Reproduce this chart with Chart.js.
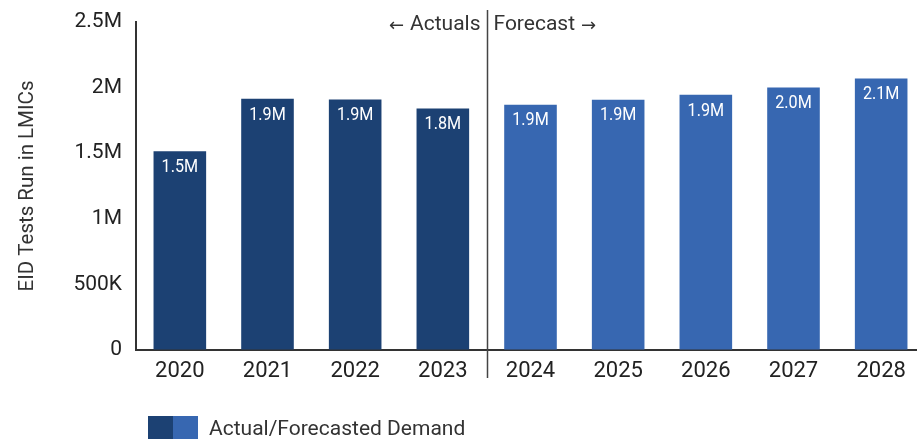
<!DOCTYPE html>
<html><head><meta charset="utf-8">
<script src="https://cdn.jsdelivr.net/npm/chart.js@4/dist/chart.umd.min.js"></script>
<style>html,body{margin:0;padding:0;overflow:hidden;background:#fff;width:917px;height:439px}canvas{display:block}</style>
</head><body>
<canvas id="c" width="930" height="439"></canvas>
<script>
const years = ["2020","2021","2022","2023","2024","2025","2026","2027","2028"];
const demand = [1515000,1915000,1910000,1840000,1870000,1908000,1945000,2000000,2070000];
const isForecast = [false,false,false,false,true,true,true,true,true];
const yTickLabels = {0:"0",500000:"500K",1000000:"1M",1500000:"1.5M",2000000:"2M",2500000:"2.5M"};
const dividerAfterIndex = 3;
const legendText = "Actual/Forecasted Demand";
const dark = "#1c4173", light = "#3767b1";

const overlay = {
  id:"overlay",
  afterDatasetsDraw(chart){
    const ctx = chart.ctx, x = chart.scales.x, meta = chart.getDatasetMeta(0);
    ctx.save();
    ctx.fillStyle = "#fff";
    ctx.font = "19px Roboto";
    ctx.textAlign = "center"; ctx.textBaseline = "middle";
    meta.data.forEach((b,i)=>{
      ctx.save();
      ctx.translate(b.x, b.y+16);
      ctx.scale(0.85,1);
      ctx.fillText((demand[i]/1e6).toFixed(1)+"M", 0, 0);
      ctx.restore();
    });
    const dx = Math.round((x.getPixelForValue(dividerAfterIndex)+x.getPixelForValue(dividerAfterIndex+1))/2)+0.5;
    ctx.strokeStyle = "#444"; ctx.lineWidth = 1.5;
    ctx.beginPath(); ctx.moveTo(dx,10); ctx.lineTo(dx,378); ctx.stroke();
    ctx.fillStyle = "#333"; ctx.textBaseline = "middle";
    ctx.font = "21px Roboto";
    ctx.textAlign = "right";
    const aW = ctx.measureText("Actuals").width;
    ctx.fillText("Actuals", dx-7, 25);
    ctx.textAlign = "left";
    const fW = ctx.measureText("Forecast").width;
    ctx.fillText("Forecast", dx+6, 25);
    ctx.font = "18px 'DejaVu Sans'";
    ctx.textAlign = "right"; ctx.fillText("\u2190", dx-7-aW-6, 26);
    ctx.textAlign = "left"; ctx.fillText("\u2192", dx+6+fW+6, 26);
    ctx.fillStyle = dark; ctx.fillRect(148,416,25,23);
    ctx.fillStyle = light; ctx.fillRect(173,416,25,23);
    ctx.fillStyle = "#333"; ctx.font = "21px Roboto"; ctx.textAlign="left";
    ctx.fillText(legendText, 209, 430);
    ctx.restore();
  }
};

new Chart(document.getElementById("c"), {
  type:"bar",
  data:{labels:years, datasets:[{label:legendText, data:demand,
    backgroundColor: isForecast.map(f=>f?light:dark),
    categoryPercentage:1, barPercentage:0.6}]},
  options:{
    responsive:false, animation:false,
    layout:{padding:{top:22,right:5,bottom:57,left:0}},
    plugins:{legend:{display:false}, tooltip:{enabled:false}},
    scales:{
      x:{grid:{display:false,drawTicks:false},
         border:{display:true,color:"#333",width:2},
         ticks:{color:"#222",font:{family:"Roboto",size:22},padding:8,maxRotation:0},
         afterFit(s){s.height=32;}},
      y:{min:0,max:2500000,
         grid:{display:true,drawOnChartArea:false,drawTicks:true,tickLength:14,color:"rgba(0,0,0,0)"},
         border:{display:true,color:"#333",width:2},
         ticks:{stepSize:500000,color:"#222",font:{family:"Roboto",size:21},padding:0,
           callback:v=>yTickLabels[v]!==undefined?yTickLabels[v]:""},
         title:{display:true,text:"EID Tests Run in LMICs",color:"#333",font:{family:"Roboto",size:20.5},padding:{top:16,bottom:0}},
         afterFit(s){s.width=136;}}
    }
  },
  plugins:[overlay]
});
</script>
</body></html>
